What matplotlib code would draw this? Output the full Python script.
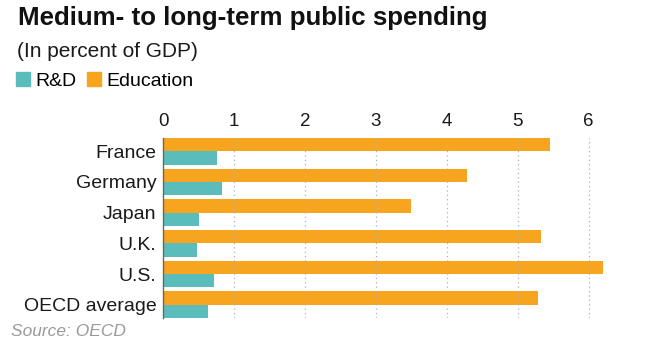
import numpy as np
import matplotlib.pyplot as plt
from matplotlib.patches import Patch

plt.rcParams['font.family'] = ['Liberation Sans', 'DejaVu Sans']

# dados (em % do PIB)
paises = ['France', 'Germany', 'Japan', 'U.K.', 'U.S.', 'OECD average']
educacao = [5.45, 4.28, 3.49, 5.33, 6.20, 5.28]
pesquisa = [0.76, 0.83, 0.51, 0.47, 0.72, 0.63]
ticks_x = [0, 1, 2, 3, 4, 5, 6]

cor_rd = '#5BBDBB'
cor_edu = '#F7A51F'
cor_texto = '#1a1a1a'

W, H = 647, 340
fig = plt.figure(figsize=(W / 100, H / 100), dpi=100)
fig.patch.set_facecolor('white')

# eixo posicionado em pixels
esq, topo, base = 163.3, 138, 318
px_por_unidade = 70.9
xmax = 6.4
ax = fig.add_axes([esq / W, 1 - base / H, xmax * px_por_unidade / W, (base - topo) / H])

pos = np.arange(len(paises))
altura = 0.433
ax.barh(pos - altura / 2, educacao, height=altura, color=cor_edu, linewidth=0)
ax.barh(pos + altura / 2, pesquisa, height=altura, color=cor_rd, linewidth=0)

ax.set_xlim(0, xmax)
ax.set_ylim(len(paises) - 1 + altura, -altura)

ax.set_yticks(pos)
ax.set_yticklabels(paises, fontsize=14, color=cor_texto)
ax.xaxis.tick_top()
ax.set_xticks(ticks_x)
ax.set_xticklabels([str(t) for t in ticks_x], fontsize=13.5, color=cor_texto)
ax.tick_params(axis='both', length=0)
ax.tick_params(axis='x', pad=6)
ax.tick_params(axis='y', pad=5)

# grade pontilhada
for t in ticks_x[1:]:
    ax.axvline(t, color='#b0b0b0', linestyle=(0, (1, 2.5)), linewidth=0.9, zorder=1.5)

for lado in ['top', 'right', 'bottom']:
    ax.spines[lado].set_visible(False)
ax.spines['left'].set_color('#666666')
ax.spines['left'].set_linewidth(1)

# títulos
fig.text(18 / W, 1 - 25 / H, 'Medium- to long-term public spending',
         fontsize=18.6, weight='bold', color='#111111', va='baseline')
fig.text(17 / W, 1 - 57 / H, '(In percent of GDP)',
         fontsize=15, color=cor_texto, va='baseline')

# legenda
handles = [Patch(color=cor_rd, label='R&D'), Patch(color=cor_edu, label='Education')]
fig.legend(handles=handles, loc='upper left', bbox_to_anchor=(16 / W, 1 - 72 / H),
           ncol=2, frameon=False, fontsize=14, handlelength=0.72, handleheight=0.72,
           handletextpad=0.3, columnspacing=0.5, borderpad=0, borderaxespad=0)

fig.text(11 / W, 1 - 336 / H, 'Source: OECD', fontsize=12.5, style='italic',
         color='#9a9a9a', va='baseline')

fig.savefig('out.png', dpi=100)
